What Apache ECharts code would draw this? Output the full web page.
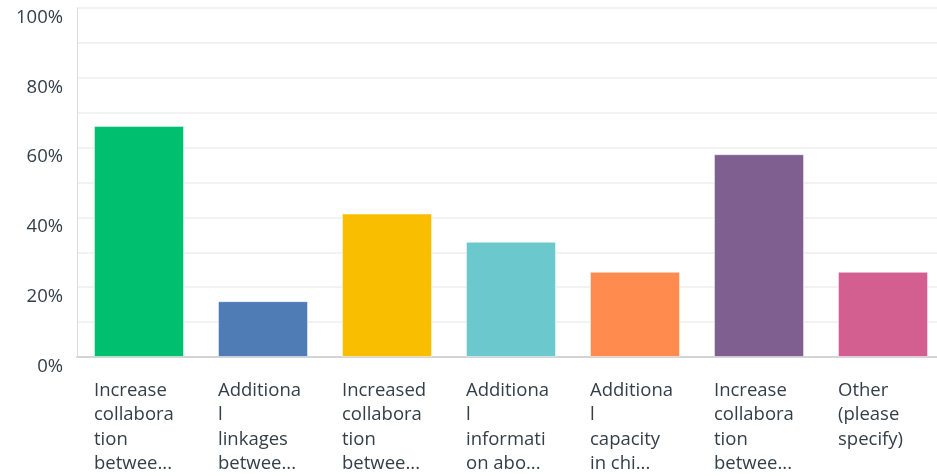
<!DOCTYPE html>
<html><head><meta charset="utf-8">
<script src="https://cdn.jsdelivr.net/npm/echarts@6/dist/echarts.min.js"></script>
<style>html,body{margin:0;padding:0;background:#fff;overflow:hidden}#c{width:945px;height:476px}</style>
</head><body><div id="c"></div>
<script>
const categories = [
  "Increase\ncollabora\ntion\nbetwee...",
  "Additiona\nl\nlinkages\nbetwee...",
  "Increased\ncollabora\ntion\nbetwee...",
  "Additiona\nl\ninformati\non abo...",
  "Additiona\nl\ncapacity\nin chi...",
  "Increase\ncollabora\ntion\nbetwee...",
  "Other\n(please\nspecify)"
];
const values = [66.2, 16.0, 41.1, 33.0, 24.4, 58.1, 24.4];
const colors = ["#00BF6F", "#507CB6", "#F9BE00", "#6BC8CD", "#FF8B4F", "#7F5F90", "#D25F90"];
const yTicks = [0, 20, 40, 60, 80, 100];

const chart = echarts.init(document.getElementById('c'), null, {renderer: 'canvas'});
chart.setOption({
  animation: false,
  grid: {left: 77, top: 8, right: 0, bottom: 119, containLabel: false},
  xAxis: {
    type: 'category',
    data: categories,
    axisTick: {show: false},
    axisLine: {lineStyle: {color: '#d4d4d4', width: 2}},
    axisLabel: {
      interval: 0,
      margin: 21,
      align: 'center',
      verticalAlign: 'top',
      formatter: v => '{a|' + v + '}',
      rich: {a: {align: 'left', width: 90, fontSize: 18.5, lineHeight: 24.5, color: '#333e48', fontFamily: 'Open Sans'}}
    }
  },
  yAxis: {
    type: 'value',
    min: 0, max: 100, interval: 10,
    axisLine: {show: true, lineStyle: {color: '#dcdcdc', width: 1}},
    axisTick: {show: false},
    splitLine: {lineStyle: {color: '#eeeeee', width: 1.5}},
    axisLabel: {
      margin: 14,
      verticalAlign: 'top',
      fontSize: 18.5,
      color: '#333e48',
      fontFamily: 'Open Sans',
      formatter: v => yTicks.includes(v) ? v + '%' : ''
    }
  },
  series: [{
    type: 'bar',
    barWidth: 90,
    data: values.map((v, i) => ({value: v, itemStyle: {color: colors[i]}})),
    itemStyle: {borderColor: 'rgba(255,255,255,0.45)', borderWidth: 1}
  }]
});
</script></body></html>
